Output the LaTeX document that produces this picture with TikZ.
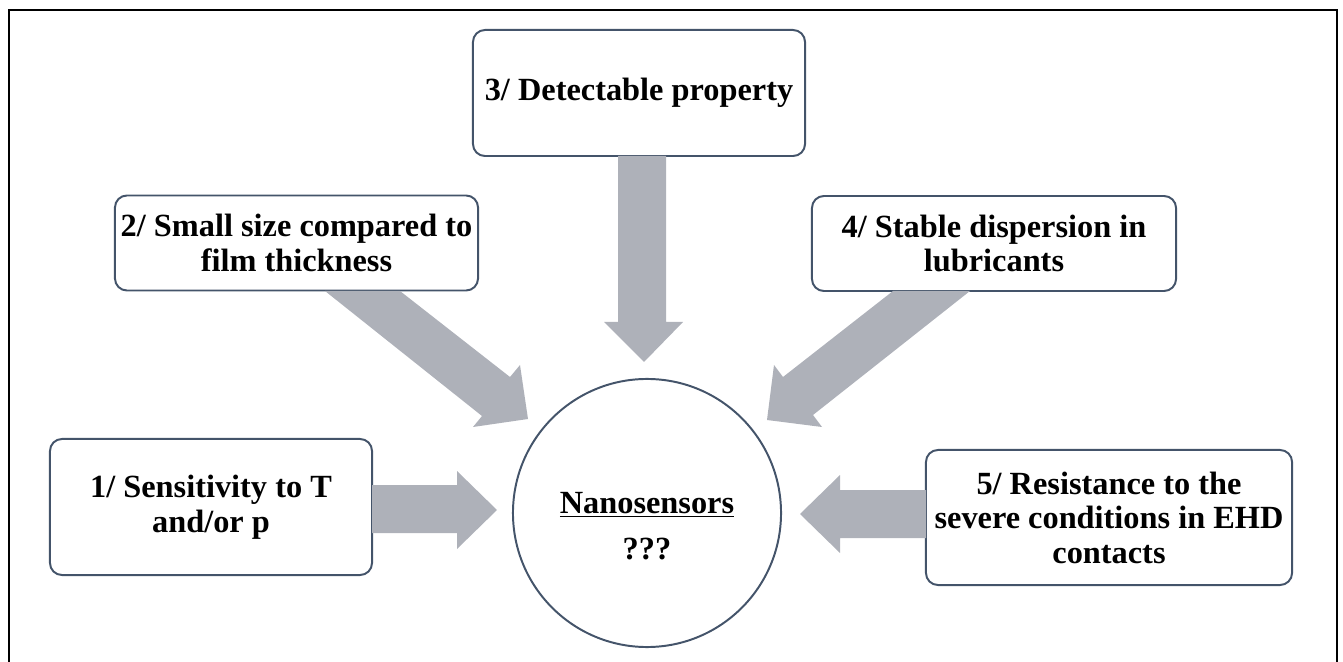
\documentclass[tikz,border=0pt]{standalone}
\usepackage{fontspec}
\setmainfont{Liberation Serif}
\definecolor{boxline}{RGB}{68,84,106}
\definecolor{arrowfill}{RGB}{174,177,185}
\begin{document}
\begin{tikzpicture}[x=0.025cm,y=-0.025cm,
  box/.style={draw=boxline,line width=1.4pt,rounded corners=0.3cm,fill=white,
    align=center,font=\fontsize{23}{24.5}\selectfont\bfseries,inner sep=0pt},
  blockarrow/.style={fill=arrowfill,draw=none},
  frame/.style={draw=black,line width=1.4pt}]
\useasboundingbox (0,0) rectangle (1343,662);
% frame
\draw[frame] (9,670) -- (9,10) -- (1337,10) -- (1337,670);
% boxes
\node[box,minimum width=8.3cm,minimum height=3.15cm] (b3) at (639,93) {3/ Detectable property};
\node[box,minimum width=9.075cm,minimum height=2.375cm] (b2) at (296.5,243) {2/ Small size compared to\\film thickness};
\node[box,minimum width=9.1cm,minimum height=2.375cm] (b4) at (994,243.5) {4/ Stable dispersion in\\lubricants};
\node[box,minimum width=8.05cm,minimum height=3.4cm] (b1) at (211,507) {1/ Sensitivity to T\\and/or p};
\node[box,minimum width=9.15cm,minimum height=3.375cm] (b5) at (1109,517.5) {5/ Resistance to the\\severe conditions in EHD\\contacts};
% circle
\node[draw=boxline,line width=1.4pt,circle,minimum size=6.7cm,inner sep=0pt] (c) at (647,513) {};
\node[align=center,font=\fontsize{23}{24.5}\selectfont\bfseries,inner sep=0pt] (ct) at (647,526) {\underline{Nanosensors}\\[8pt]???};
% block arrows
\fill[blockarrow] (618,156) -- (666,156) -- (666,322) -- (683,322) -- (644,362) -- (604,322) -- (618,322) -- cycle;
\fill[blockarrow] (372,485) -- (457,485) -- (457,471) -- (497,510) -- (457,549) -- (457,533) -- (372,533) -- cycle;
\fill[blockarrow] (926,490) -- (840,490) -- (840,475) -- (800,514) -- (840,553) -- (840,538) -- (926,538) -- cycle;
\fill[blockarrow] (325,291) -- (400,291) -- (510,377) -- (520,365) -- (528,419) -- (473,427) -- (482,416) -- cycle;
\fill[blockarrow] (893,291) -- (970,291) -- (813,415) -- (822,427) -- (767,420) -- (774,365) -- (783,377) -- cycle;
\end{tikzpicture}
\end{document}
